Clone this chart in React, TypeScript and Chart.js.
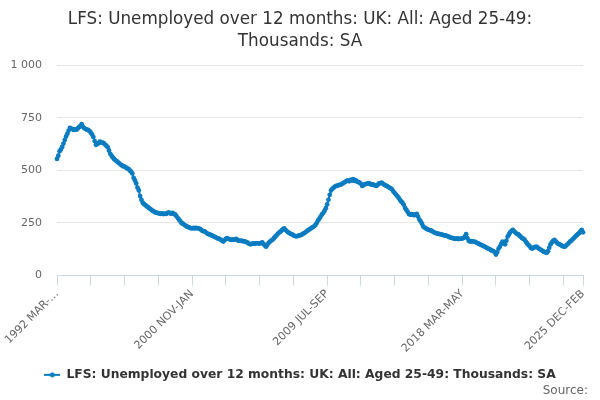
import React, { useEffect, useRef } from "react";
import { Chart, registerables } from "chart.js";

Chart.register(...registerables);

const TITLE_LINES = ["LFS: Unemployed over 12 months: UK: All: Aged 25-49:", "Thousands: SA"];
const SERIES_NAME = "LFS: Unemployed over 12 months: UK: All: Aged 25-49: Thousands: SA";
const SOURCE_TEXT = "Source:";

const START_YEAR = 1992;
const START_MONTH = 2; // March
const MONTH_NAMES = ["JAN", "FEB", "MAR", "APR", "MAY", "JUN", "JUL", "AUG", "SEP", "OCT", "NOV", "DEC"];

// Rolling three-month periods, one row per 12 periods, starting 1992 MAR-MAY
const VALUES: number[] = [
  555, 570, 592, 600, 612, 628, 645, 662, 675, 690, 703, 699,
  697, 693, 696, 694, 700, 706, 712, 720, 708, 702, 697, 695,
  692, 688, 680, 671, 659, 640, 622, 626, 630, 637, 634, 632,
  630, 623, 618, 611, 595, 579, 570, 562, 555, 548, 544, 538,
  534, 528, 524, 520, 518, 514, 510, 507, 500, 494, 486, 465,
  452, 438, 418, 405, 378, 360, 346, 340, 335, 330, 325, 320,
  316, 310, 307, 302, 300, 298, 296, 295, 293, 295, 292, 294,
  293, 297, 300, 296, 294, 298, 293, 290, 282, 273, 265, 258,
  249, 246, 241, 237, 233, 230, 228, 225, 224, 226, 224, 226,
  225, 224, 222, 217, 212, 210, 209, 203, 198, 196, 194, 190,
  188, 185, 182, 178, 176, 174, 170, 166, 161, 168, 174, 177,
  174, 172, 169, 170, 172, 170, 174, 168, 165, 164, 166, 163,
  162, 161, 158, 155, 150, 148, 150, 153, 151, 152, 154, 153,
  152, 154, 157, 150, 142, 137, 146, 155, 161, 166, 170, 177,
  184, 190, 198, 204, 208, 214, 220, 224, 216, 210, 205, 201,
  198, 195, 191, 188, 186, 187, 189, 191, 193, 196, 200, 204,
  209, 214, 218, 222, 226, 230, 234, 240, 250, 262, 270, 280,
  290, 297, 308, 320, 338, 360, 384, 405, 412, 418, 423, 426,
  428, 430, 432, 434, 438, 442, 446, 450, 452, 448, 455, 452,
  458, 450, 454, 447, 444, 442, 436, 426, 430, 434, 436, 437,
  440, 436, 432, 434, 431, 428, 426, 432, 438, 440, 442, 436,
  432, 428, 426, 422, 418, 414, 410, 400, 392, 385, 378, 370,
  360, 352, 346, 336, 321, 312, 302, 293, 289, 292, 290, 286,
  290, 293, 280, 266, 257, 246, 233, 228, 224, 220, 217, 216,
  214, 210, 206, 203, 201, 199, 198, 196, 195, 193, 191, 190,
  188, 186, 183, 180, 179, 177, 175, 174, 176, 173, 175, 174,
  176, 178, 184, 196, 178, 165, 161, 163, 162, 161, 160, 156,
  153, 150, 147, 144, 141, 138, 135, 131, 128, 125, 121, 118,
  116, 110, 99, 112, 128, 137, 150, 161, 156, 148, 165, 185,
  195, 205, 212, 217, 210, 204, 198, 196, 190, 184, 178, 175,
  170, 160, 152, 145, 138, 130, 128, 132, 135, 137, 133, 128,
  124, 120, 116, 112, 110, 108, 115, 132, 148, 157, 164, 169,
  162, 156, 150, 148, 144, 140, 138, 137, 142, 148, 154, 161,
  165, 172, 178, 185, 190, 196, 201, 210, 217, 205,
];

const CATEGORIES: string[] = VALUES.map((_, i) => {
  const m = START_MONTH + i;
  const y = START_YEAR + Math.floor(m / 12);
  return `${y} ${MONTH_NAMES[m % 12]}-${MONTH_NAMES[(m + 2) % 12]}`;
});

const LABELLED_CATEGORIES = ["1992 MAR-MAY", "2000 NOV-JAN", "2009 JUL-SEP", "2018 MAR-MAY", "2025 DEC-FEB"];
const TICK_LABELS = ["1992 MAR-…", "2000 NOV-JAN", "2009 JUL-SEP", "2018 MAR-MAY", "2025 DEC-FEB"];
const TICK_MARK_EVERY = 26;

const Y_MIN = 0;
const Y_MAX = 1000;
const Y_STEP = 250;

const LINE_COLOR = "#0b7cc1";
const FONT = '"DejaVu Sans", Verdana, sans-serif';

export default function App() {
  const ref = useRef<HTMLCanvasElement | null>(null);

  useEffect(() => {
    document.body.style.margin = "0";
    const canvas = ref.current;
    if (!canvas) return;

    const sym = document.createElement("canvas");
    sym.width = 16;
    sym.height = 10;
    const sc = sym.getContext("2d");
    if (sc) {
      sc.strokeStyle = LINE_COLOR;
      sc.lineWidth = 2;
      sc.beginPath();
      sc.moveTo(0, 5);
      sc.lineTo(16, 5);
      sc.stroke();
      sc.fillStyle = LINE_COLOR;
      sc.beginPath();
      sc.arc(8, 5, 2.5, 0, Math.PI * 2);
      sc.fill();
    }

    const labelledIdx = LABELLED_CATEGORIES.map((c) => CATEGORIES.indexOf(c));

    const sourcePlugin = {
      id: "sourceText",
      afterDraw(chart: any) {
        const ctx = chart.ctx;
        ctx.save();
        ctx.font = `12px ${FONT}`;
        ctx.fillStyle = "#666666";
        ctx.textAlign = "right";
        ctx.textBaseline = "middle";
        ctx.fillText(SOURCE_TEXT, chart.width - 12, chart.height - 9);
        ctx.restore();
      },
    };

    const chart = new Chart(canvas, {
      type: "line",
      data: {
        labels: CATEGORIES,
        datasets: [
          {
            label: SERIES_NAME,
            data: VALUES,
            borderColor: LINE_COLOR,
            backgroundColor: LINE_COLOR,
            borderWidth: 2,
            pointRadius: 2.4,
            pointBorderWidth: 0,
            pointBackgroundColor: LINE_COLOR,
            tension: 0,
          },
        ],
      },
      options: {
        animation: false,
        responsive: false,
        layout: { padding: { left: 0, right: 0, top: 0, bottom: 9 } },
        plugins: {
          title: {
            display: true,
            text: TITLE_LINES,
            color: "#333333",
            font: { family: FONT, size: 16.8, weight: "normal", lineHeight: 1.3 },
            padding: { top: 8.5, bottom: 13.3 },
          },
          legend: {
            display: true,
            position: "bottom",
            labels: {
              usePointStyle: true,
              pointStyleWidth: 16,
              padding: 10,
              color: "#333333",
              font: { family: FONT, size: 12.3, weight: "bold" },
              generateLabels: () => [
                {
                  text: SERIES_NAME,
                  pointStyle: sym as any,
                  fillStyle: LINE_COLOR,
                  strokeStyle: LINE_COLOR,
                  lineWidth: 0,
                  hidden: false,
                  datasetIndex: 0,
                  fontColor: "#333333",
                } as any,
              ],
            },
          },
          tooltip: { enabled: false },
        },
        scales: {
          x: {
            type: "category",
            offset: false,
            grid: {
              drawOnChartArea: false,
              drawTicks: true,
              tickLength: 10,
              color: "#ccd6eb",
            },
            border: { display: true, color: "#ccd6eb", width: 1 },
            afterBuildTicks: (scale: any) => {
              const t: { value: number }[] = [];
              for (let i = 0; i < CATEGORIES.length - 1; i += TICK_MARK_EVERY) t.push({ value: i });
              t.push({ value: CATEGORIES.length - 1 });
              scale.ticks = t;
            },
            afterFit: (scale: any) => {
              scale.height = 83.3;
            },
            ticks: {
              autoSkip: false,
              maxRotation: 45,
              minRotation: 45,
              padding: 2,
              color: "#666666",
              font: { family: FONT, size: 11 },
              callback: (value: any) => {
                const k = labelledIdx.indexOf(Number(value));
                return k >= 0 ? TICK_LABELS[k] : "";
              },
            },
          },
          y: {
            min: Y_MIN,
            max: Y_MAX,
            grid: {
              drawTicks: false,
              color: (ctx: any) => (ctx.tick && ctx.tick.value === 0 ? "rgba(0,0,0,0)" : "#e6e6e6"),
              lineWidth: 1,
            },
            border: { display: false },
            afterFit: (scale: any) => {
              scale.width = 57;
            },
            ticks: {
              stepSize: Y_STEP,
              padding: 15,
              color: "#666666",
              font: { family: FONT, size: 11 },
              callback: (v: any) => String(v).replace(/\B(?=(\d{3})+(?!\d))/g, " "),
            },
          },
          rightGap: {
            type: "linear",
            position: "right",
            display: true,
            grid: { display: false, drawTicks: false },
            border: { display: false },
            ticks: { display: false },
            afterFit: (scale: any) => {
              scale.width = 17;
            },
          },
        },
      },
      plugins: [sourcePlugin],
    });

    return () => chart.destroy();
  }, []);

  return (
    <div style={{ width: 600, height: 400 }}>
      <canvas ref={ref} width={600} height={400} />
    </div>
  );
}
